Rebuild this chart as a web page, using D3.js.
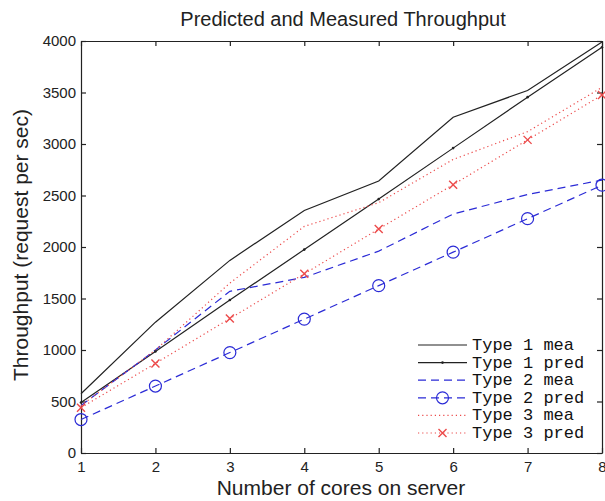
<!DOCTYPE html>
<html>
<head>
<meta charset="utf-8">
<script src="https://cdn.jsdelivr.net/npm/d3@7"></script>
<style>
  body { margin: 0; background: #fff; }
  svg { display: block; }
  text { font-family: "Liberation Sans", Arial, sans-serif; fill: #222; }
  .axis path, .axis line { stroke: #222; stroke-width: 1.2; }
  .axis text { font-size: 15px; fill: #222; }
  .legend text { font-family: "Liberation Mono", "Courier New", monospace; font-size: 17px; fill: #111; }
</style>
</head>
<body>
<svg width="605" height="501"></svg>
<script>
// cores on the server
var cores = [1, 2, 3, 4, 5, 6, 7, 8];

// throughput values (request per sec)
var type1Mea  = [575, 1270, 1870, 2355, 2640, 3260, 3520, 3990];
var type1Pred = [490, 985, 1485, 1975, 2465, 2960, 3455, 3940];
var type2Mea  = [460, 1000, 1570, 1705, 1960, 2320, 2510, 2650];
var type2Pred = [325, 650, 975, 1300, 1625, 1950, 2275, 2600];
var type3Mea  = [460, 1000, 1650, 2200, 2430, 2850, 3120, 3550];
var type3Pred = [440, 870, 1305, 1740, 2175, 2605, 3040, 3475];

var xTicks = [1, 2, 3, 4, 5, 6, 7, 8];
var yTicks = [0, 500, 1000, 1500, 2000, 2500, 3000, 3500, 4000];

var series = [
    {name: "Type 1 mea",  values: type1Mea,  color: "#222", dash: null,  marker: null},
    {name: "Type 1 pred", values: type1Pred, color: "#222", dash: null,  marker: "dot"},
    {name: "Type 2 mea",  values: type2Mea,  color: "#2b2bd6", dash: "8,5", marker: null},
    {name: "Type 2 pred", values: type2Pred, color: "#2b2bd6", dash: "8,5", marker: "circle"},
    {name: "Type 3 mea",  values: type3Mea,  color: "#ec4a4a", dash: "1.2,3", marker: null},
    {name: "Type 3 pred", values: type3Pred, color: "#ec4a4a", dash: "1.2,3", marker: "cross"}
];

var svg = d3.select("svg"),
    margin = {top: 41, right: 3, bottom: 48, left: 81},
    width = +svg.attr("width") - margin.left - margin.right,
    height = +svg.attr("height") - margin.top - margin.bottom,
    g = svg.append("g").attr("transform", "translate(" + margin.left + "," + margin.top + ")");

var x = d3.scaleLinear().domain([1, 8]).range([0, width]);
var y = d3.scaleLinear().domain([0, 4000]).range([height, 0]);

// axes, matlab style: ticks pointing inward on all four sides
g.append("g")
    .attr("class", "axis")
    .attr("transform", "translate(0," + height + ")")
    .call(d3.axisBottom(x).tickValues(xTicks).tickFormat(d3.format("d"))
        .tickSizeInner(-5).tickSizeOuter(0).tickPadding(8));

g.append("g")
    .attr("class", "axis")
    .call(d3.axisTop(x).tickValues(xTicks).tickSizeInner(-5).tickSizeOuter(0).tickFormat(""));

g.append("g")
    .attr("class", "axis")
    .call(d3.axisLeft(y).tickValues(yTicks).tickFormat(d3.format("d"))
        .tickSizeInner(-5).tickSizeOuter(0).tickPadding(5));

g.append("g")
    .attr("class", "axis")
    .attr("transform", "translate(" + width + ",0)")
    .call(d3.axisRight(y).tickValues(yTicks).tickSizeInner(-5).tickSizeOuter(0).tickFormat(""));

// lines
var line = d3.line()
    .x((d, i) => x(cores[i]))
    .y(d => y(d));

g.selectAll(".series")
    .data(series)
    .enter().append("path")
    .attr("class", "series")
    .attr("d", d => line(d.values))
    .attr("fill", "none")
    .attr("stroke", d => d.color)
    .attr("stroke-width", 1.2)
    .attr("stroke-dasharray", d => d.dash);

// markers
function drawMarker(sel, s, cx, cy) {
    if (s.marker === "circle") {
        sel.append("circle").attr("cx", cx).attr("cy", cy).attr("r", 6)
            .attr("fill", "none").attr("stroke", s.color).attr("stroke-width", 1.2);
    } else if (s.marker === "cross") {
        var r = 4;
        sel.append("path")
            .attr("d", "M" + (cx - r) + "," + (cy - r) + "L" + (cx + r) + "," + (cy + r) +
                       "M" + (cx - r) + "," + (cy + r) + "L" + (cx + r) + "," + (cy - r))
            .attr("stroke", s.color).attr("stroke-width", 1.4);
    } else if (s.marker === "dot") {
        sel.append("circle").attr("cx", cx).attr("cy", cy).attr("r", 1.3).attr("fill", s.color);
    }
}

series.filter(s => s.marker).forEach(function(s) {
    var mg = g.append("g");
    s.values.forEach(function(v, i) {
        drawMarker(mg, s, x(cores[i]), y(v));
    });
});

// legend
var legend = svg.append("g").attr("class", "legend");
series.forEach(function(s, i) {
    var ly = 345 + i * 17.6;
    legend.append("line")
        .attr("x1", 418).attr("x2", 467)
        .attr("y1", ly).attr("y2", ly)
        .attr("stroke", s.color)
        .attr("stroke-width", 1.2)
        .attr("stroke-dasharray", s.dash);
    drawMarker(legend, s, 442.5, ly);
    legend.append("text")
        .attr("x", 472)
        .attr("y", ly + 5)
        .text(s.name);
});

// title and axis labels
svg.append("text")
    .attr("text-anchor", "middle")
    .attr("x", 343)
    .attr("y", 26)
    .style("font-size", "20px")
    .text("Predicted and Measured Throughput");

svg.append("text")
    .attr("text-anchor", "middle")
    .attr("x", 341)
    .attr("y", 495)
    .style("font-size", "21px")
    .text("Number of cores on server");

svg.append("text")
    .attr("text-anchor", "middle")
    .attr("transform", "rotate(-90)")
    .attr("x", -245)
    .attr("y", 28)
    .style("font-size", "21px")
    .text("Throughput (request per sec)");
</script>
</body>
</html>
